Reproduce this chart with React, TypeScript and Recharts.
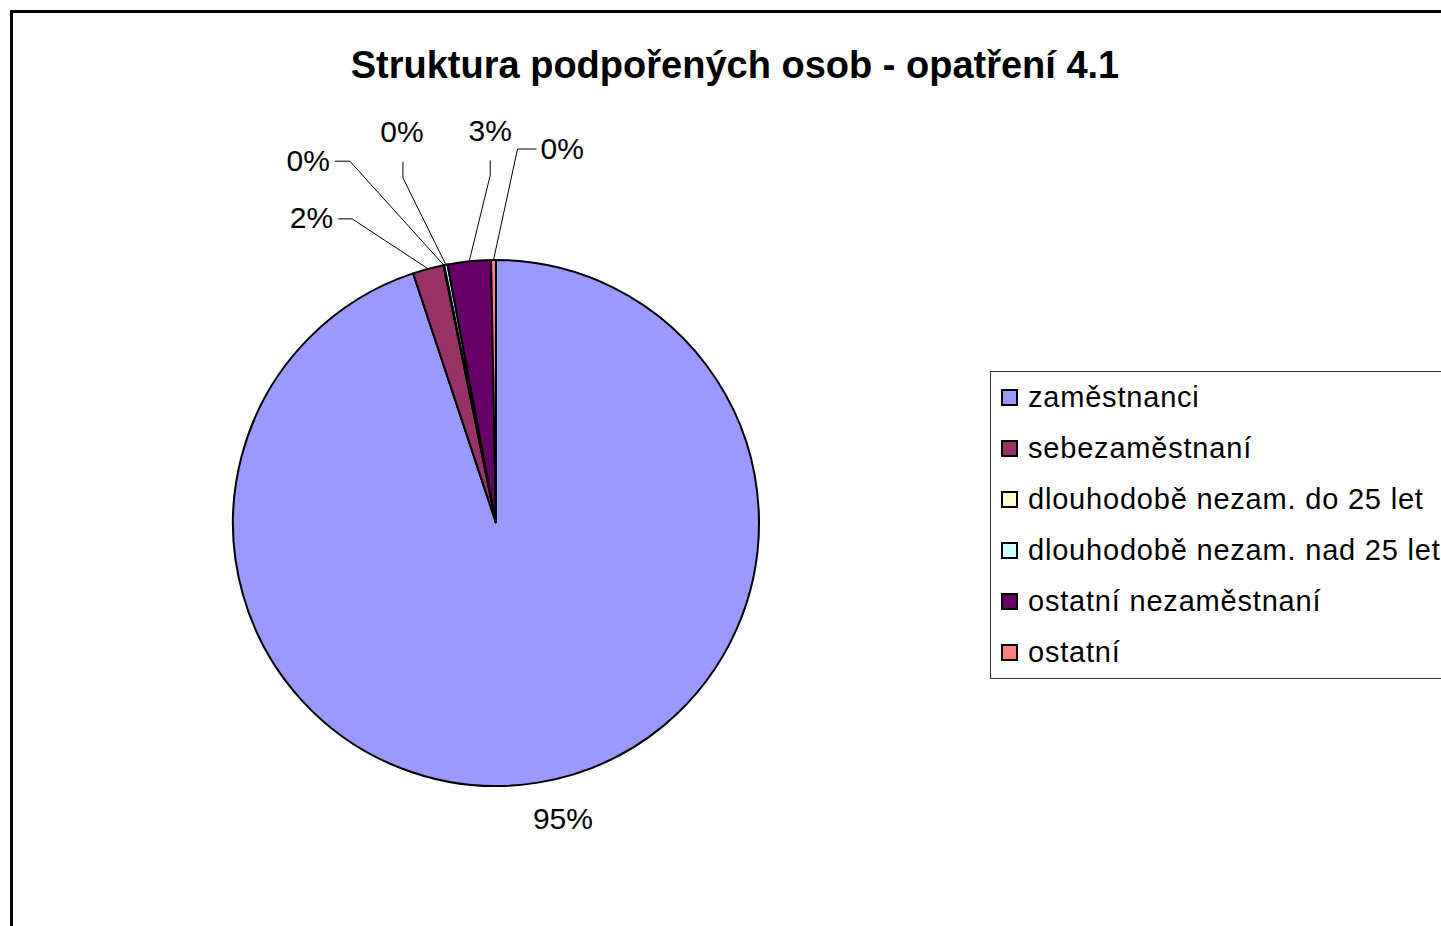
import { PieChart, Pie, Cell, Legend } from "recharts";

const categories = [
  "zaměstnanci",
  "sebezaměstnaní",
  "dlouhodobě nezam. do 25 let",
  "dlouhodobě nezam. nad 25 let",
  "ostatní nezaměstnaní",
  "ostatní",
];
const shares = [94.9, 1.9, 0.05, 0.2, 2.65, 0.3];
const colors = ["#9999FF", "#993366", "#FFFFCC", "#CCFFFF", "#660066", "#FF8080"];

const data = categories.map((name, i) => ({ name, value: shares[i] }));

const FONT = "'Liberation Sans', Arial, sans-serif";
const RAD = Math.PI / 180;

// hand-placed labels, offsets from the slice's outer edge point (like Excel)
type LabelPos = { line?: number[][]; text: number[]; anchor: "start" | "middle" | "end" };
const labelLayout: LabelPos[] = [
  { text: [25, 36], anchor: "middle" },
  { line: [[-76, -50], [-90, -50]], text: [-95, -51], anchor: "end" },
  { line: [[-94, -104], [-109, -104]], text: [-114, -105], anchor: "end" },
  { line: [[-43, -87], [-43, -103]], text: [-44, -133], anchor: "middle" },
  { line: [[21, -86], [21, -101]], text: [21, -131], anchor: "middle" },
  { line: [[24, -111], [43, -111]], text: [47, -112], anchor: "start" },
];

const renderLabel = (props: any) => {
  const { cx, cy, midAngle, outerRadius, index, percent } = props;
  const ex = cx + outerRadius * Math.cos(-midAngle * RAD);
  const ey = cy + outerRadius * Math.sin(-midAngle * RAD);
  const lay = labelLayout[index];
  const pts = lay.line ? [[ex, ey], ...lay.line.map(([dx, dy]) => [ex + dx, ey + dy])] : null;
  return (
    <g key={`lbl-${index}`}>
      {pts && (
        <polyline
          points={pts.map((p) => p.join(",")).join(" ")}
          fill="none"
          stroke="#000"
          strokeWidth={1}
        />
      )}
      <text
        x={ex + lay.text[0]}
        y={ey + lay.text[1]}
        textAnchor={lay.anchor}
        dominantBaseline="central"
        fontFamily={FONT}
        fontSize={30}
        fill="#000"
      >
        {`${Math.round(percent * 100)}%`}
      </text>
    </g>
  );
};

const LegendBox = () => (
  <div
    style={{
      border: "1px solid #333",
      background: "#fff",
      width: 480,
      boxSizing: "border-box",
      paddingLeft: 10,
      fontFamily: FONT,
      fontSize: 29,
      letterSpacing: 0.8,
      color: "#000",
    }}
  >
    {categories.map((c, i) => (
      <div key={c} style={{ height: 51, display: "flex", alignItems: "center", whiteSpace: "nowrap" }}>
        <span
          style={{
            width: 13,
            height: 13,
            border: "2px solid #000",
            background: colors[i],
            marginRight: 10,
            flex: "none",
          }}
        />
        {c}
      </div>
    ))}
  </div>
);

export default function App() {
  return (
    <div
      style={{
        position: "absolute",
        left: 0,
        top: 0,
        width: 1441,
        height: 926,
        overflow: "hidden",
        background: "#fff",
      }}
    >
      <div
        style={{
          position: "absolute",
          left: 10,
          top: 10,
          width: 1600,
          height: 1100,
          border: "3px solid #000",
        }}
      />
      <div
        style={{
          position: "absolute",
          left: 0,
          top: 46,
          width: 1470,
          textAlign: "center",
          fontFamily: FONT,
          fontWeight: "bold",
          fontSize: 38,
          lineHeight: "38px",
          color: "#000",
        }}
      >
        Struktura podpořených osob - opatření 4.1
      </div>
      <div style={{ position: "absolute", left: 0, top: 0 }}>
        <PieChart width={1441} height={926} margin={{ top: 0, right: 0, bottom: 0, left: 0 }}>
          <Pie
            data={data}
            dataKey="value"
            nameKey="name"
            cx={496}
            cy={523}
            outerRadius={263}
            startAngle={90}
            endAngle={-270}
            stroke="#000"
            strokeWidth={2}
            label={renderLabel}
            labelLine={false}
            isAnimationActive={false}
          >
            {data.map((d, i) => (
              <Cell key={d.name} fill={colors[i]} />
            ))}
          </Pie>
          <Legend
            content={() => <LegendBox />}
            wrapperStyle={{ position: "absolute", left: 990, top: 371, width: 480 }}
          />
        </PieChart>
      </div>
    </div>
  );
}
